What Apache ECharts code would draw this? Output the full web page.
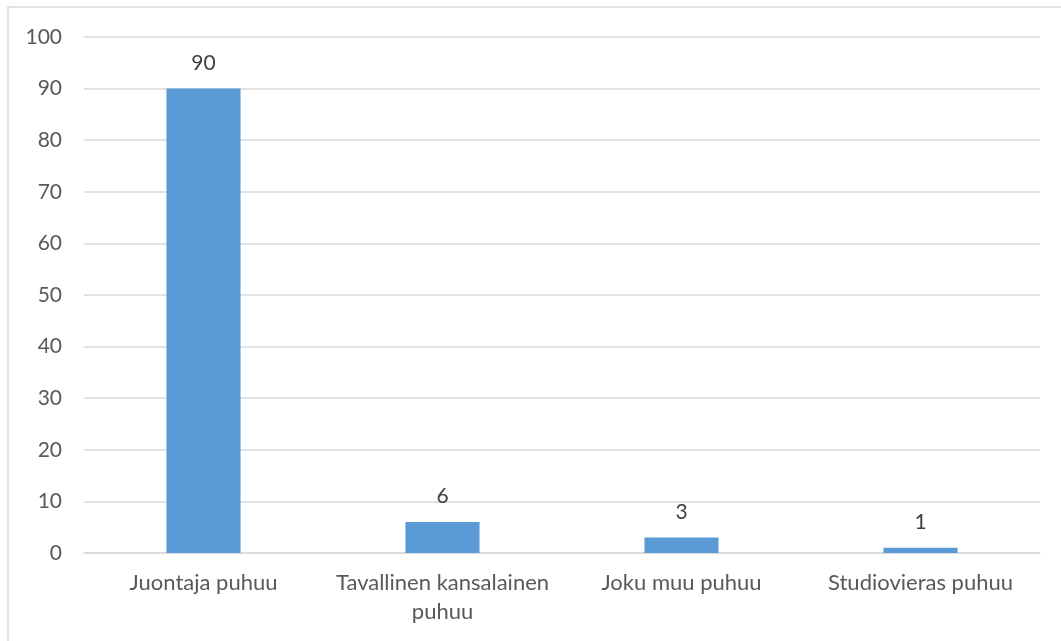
<!DOCTYPE html>
<html>
<head>
<meta charset="utf-8">
<script src="https://cdn.jsdelivr.net/npm/echarts@6/dist/echarts.min.js"></script>
<style>
  html, body { margin: 0; padding: 0; background: #fff; }
  #chart { width: 1061px; height: 641px; }
</style>
</head>
<body>
<div id="chart"></div>
<script>
// categories and values
const categories = ['Juontaja puhuu', 'Tavallinen kansalainen\npuhuu', 'Joku muu puhuu', 'Studiovieras puhuu'];
const values = [90, 6, 3, 1];

const chart = echarts.init(document.getElementById('chart'));

const option = {
  animation: false,
  textStyle: { fontFamily: 'Lato, "Open Sans", sans-serif' },
  graphic: [
    {
      type: 'rect',
      shape: { x: 8, y: 7, width: 1080, height: 660 },
      style: { fill: 'none', stroke: '#d9d9d9', lineWidth: 1.5 },
      silent: true
    }
  ],
  grid: { left: 84, right: 21, top: 37, bottom: 88 },
  xAxis: {
    type: 'category',
    data: categories,
    axisLine: { show: true, lineStyle: { color: '#d9d9d9', width: 1.5 } },
    axisTick: { show: false },
    axisLabel: { color: '#595959', fontSize: 22, margin: 15, lineHeight: 29, interval: 0 }
  },
  yAxis: {
    type: 'value',
    min: 0,
    max: 100,
    interval: 10,
    axisLine: { show: false },
    axisTick: { show: false },
    axisLabel: { color: '#595959', fontSize: 21, margin: 22 },
    splitLine: { lineStyle: { color: '#d9d9d9', width: 1.5 } }
  },
  series: [
    {
      type: 'bar',
      data: values,
      barWidth: '31%',
      itemStyle: { color: '#5b9bd5' },
      label: { show: true, position: 'top', color: '#404040', fontSize: 21, distance: 15 }
    }
  ]
};

chart.setOption(option);
</script>
</body>
</html>
